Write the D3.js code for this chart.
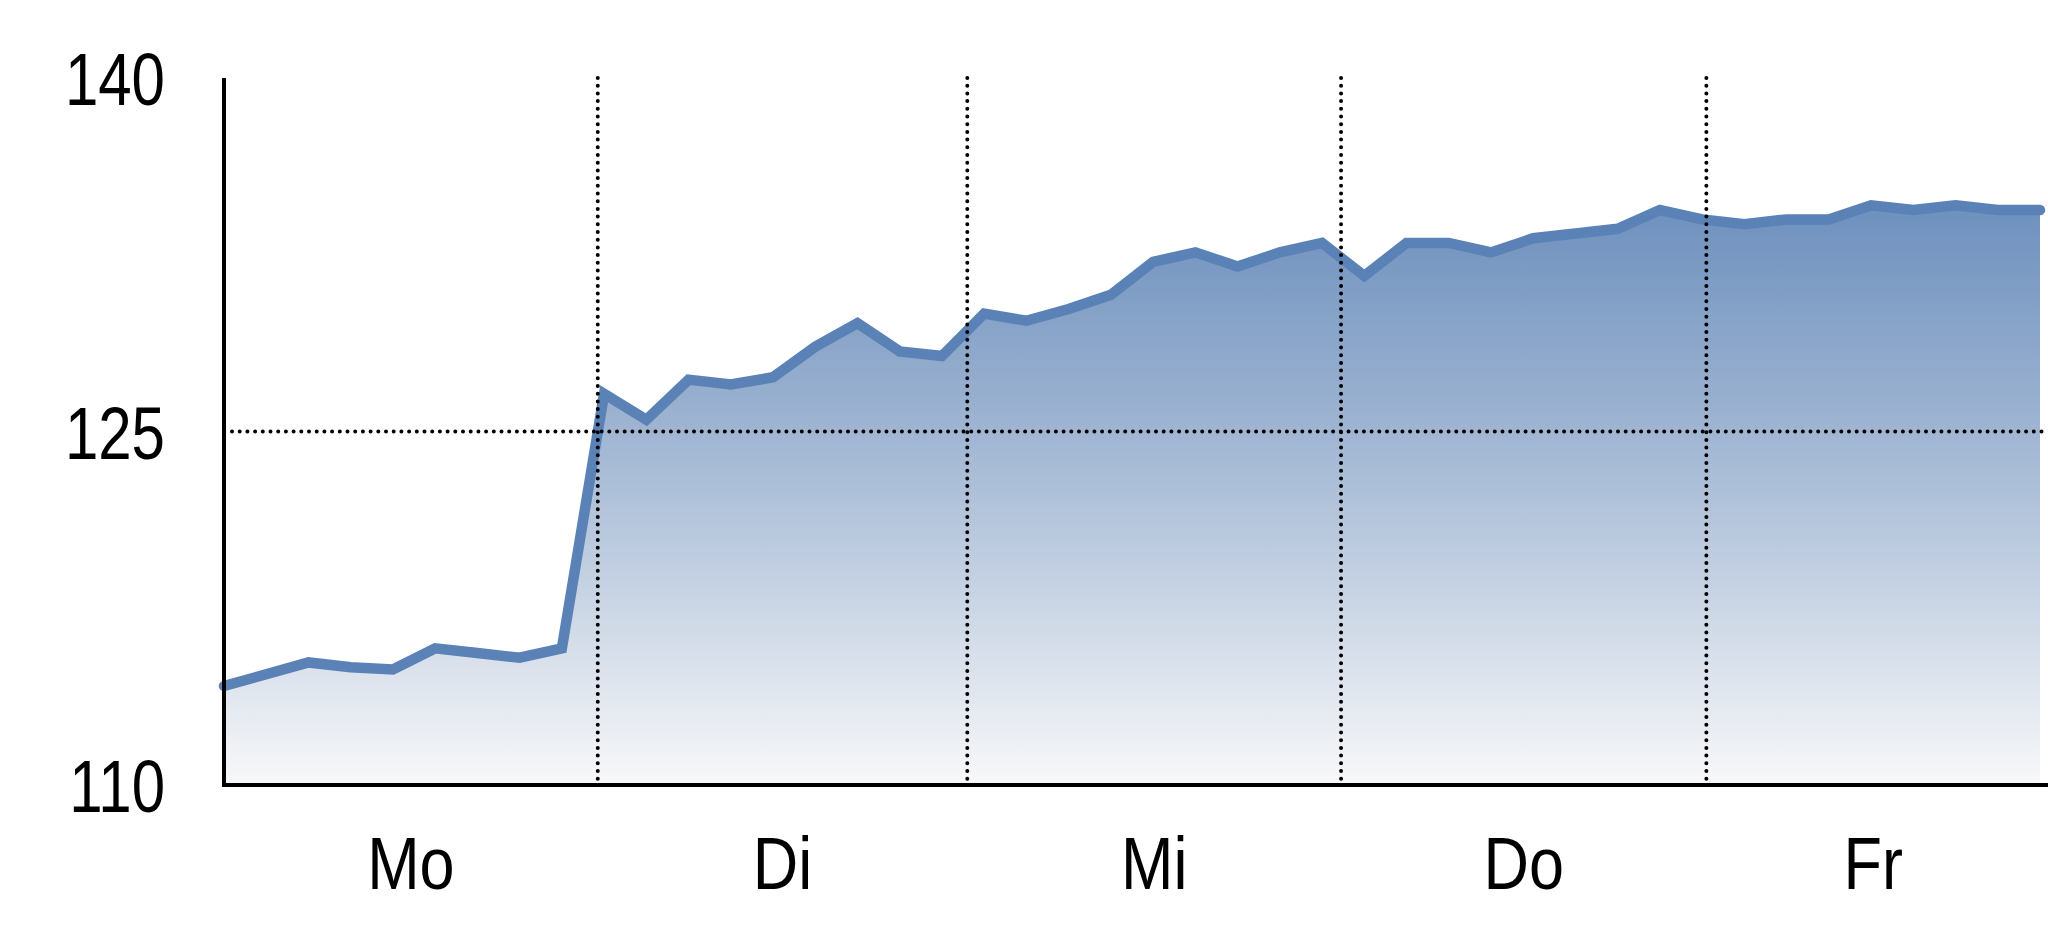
<!DOCTYPE html>
<html>
<head>
<meta charset="utf-8">
<title>Wochenverlauf</title>
<script src="https://d3js.org/d3.v7.min.js"></script>
<style>
	body { margin: 0; background: #fff; }
	text { font-family: "Liberation Sans", Arial, sans-serif; fill: #000; }
</style>
</head>
<body>
<div id="chart"></div>
<script>
// one value per time step, Monday through Friday
var values = [
	114.2, 114.7, 115.2, 115.0, 114.9, 115.8, 115.6, 115.4, 115.8,
	126.6, 125.5, 127.2, 127.0, 127.3, 128.6, 129.6, 128.4, 128.2,
	130.0, 129.7, 130.2, 130.8, 132.2, 132.6, 132.0, 132.6, 133.0,
	131.6, 133.0, 133.0, 132.6, 133.2, 133.4, 133.6, 134.4, 134.0,
	133.8, 134.0, 134.0, 134.6, 134.4, 134.6, 134.4, 134.4
];
var days = ["Mo", "Di", "Mi", "Do", "Fr"];
// day boundaries, in time steps
var dayBreaks = [0, 8.85, 17.6, 26.45, 35.1, 43];
var yTicks = [110, 125, 140];
var yGrid = [125];

var width = 2048, height = 937;

var svg = d3.select("#chart")
	.append("svg")
	.attr("width", width)
	.attr("height", height);

var x = d3.scaleLinear().domain([0, values.length - 1]).range([224, 2040]);
var y = d3.scaleLinear().domain([110, 140]).range([785, 78]);

//gradient for the area under the line
var grad = svg.append("defs").append("linearGradient")
	.attr("id", "fillGrad")
	.attr("gradientUnits", "userSpaceOnUse")
	.attr("x1", 0).attr("x2", 0)
	.attr("y1", y(140)).attr("y2", y(110));
grad.append("stop").attr("offset", "0").attr("stop-color", "#6188b9");
grad.append("stop").attr("offset", "0.17").attr("stop-color", "#6c8fbd");
grad.append("stop").attr("offset", "0.5").attr("stop-color", "#9fb5d2");
grad.append("stop").attr("offset", "1").attr("stop-color", "#f8f8f9");

var area = d3.area()
	.x(function(d, i) { return x(i); })
	.y0(y(110))
	.y1(function(d) { return y(d); });

svg.append("path")
	.datum(values)
	.attr("d", area)
	.attr("fill", "url(#fillGrad)");

var line = d3.line()
	.x(function(d, i) { return x(i); })
	.y(function(d) { return y(d); });

svg.append("path")
	.datum(values)
	.attr("d", line)
	.attr("fill", "none")
	.attr("stroke", "#5a82b6")
	.attr("stroke-width", 10.5)
	.attr("stroke-linejoin", "miter")
	.attr("stroke-linecap", "round");

//dotted grid lines, drawn over the area
function dotted(sel) {
	sel.attr("stroke", "#000")
		.attr("stroke-width", 4)
		.attr("stroke-dasharray", "0,7.7")
		.attr("stroke-linecap", "round");
}

svg.selectAll(".hgrid")
	.data(yGrid)
	.enter().append("line")
	.attr("class", "hgrid")
	.attr("x1", x(0) + 8).attr("x2", width)
	.attr("y1", function(d) { return y(d); })
	.attr("y2", function(d) { return y(d); })
	.call(dotted);

svg.selectAll(".vgrid")
	.data(dayBreaks.slice(1, -1))
	.enter().append("line")
	.attr("class", "vgrid")
	.attr("x1", function(d) { return x(d); })
	.attr("x2", function(d) { return x(d); })
	.attr("y1", y(140))
	.attr("y2", y(110))
	.call(dotted);

//axes
svg.append("line")
	.attr("x1", x(0)).attr("x2", x(0))
	.attr("y1", y(140)).attr("y2", y(110) + 2)
	.attr("stroke", "#000").attr("stroke-width", 4);

svg.append("line")
	.attr("x1", x(0) - 2).attr("x2", width)
	.attr("y1", y(110)).attr("y2", y(110))
	.attr("stroke", "#000").attr("stroke-width", 4);

//y labels, narrow type
svg.selectAll(".ylab")
	.data(yTicks)
	.enter().append("text")
	.attr("class", "ylab")
	.attr("transform", function(d) { return "translate(165," + y(d) + ") scale(0.8,1)"; })
	.attr("text-anchor", "end")
	.attr("dy", "0.36em")
	.style("font-size", "75px")
	.text(function(d) { return d; });

//day labels centred in each day
svg.selectAll(".xlab")
	.data(days)
	.enter().append("text")
	.attr("class", "xlab")
	.attr("transform", function(d, i) {
		var cx = x((dayBreaks[i] + dayBreaks[i + 1]) / 2);
		return "translate(" + cx + ",889) scale(0.84,1)";
	})
	.attr("text-anchor", "middle")
	.style("font-size", "75px")
	.text(function(d) { return d; });
</script>
</body>
</html>
